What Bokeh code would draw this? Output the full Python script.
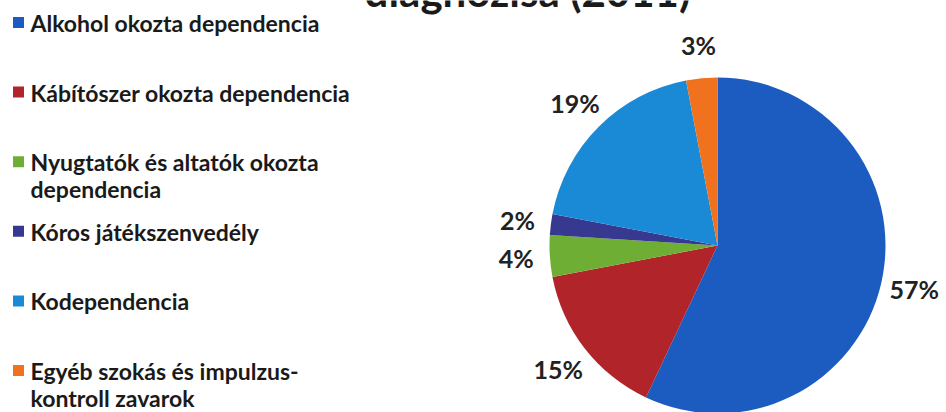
import numpy as np
from bokeh.plotting import figure
from bokeh.models import Range1d, ColumnDataSource
from bokeh.core.properties import value
from bokeh.embed import file_html
from bokeh.resources import INLINE

title_text = "diagnózisa (2011)"
categories = [
    "Alkohol okozta dependencia",
    "Kábítószer okozta dependencia",
    "Nyugtatók és altatók okozta\ndependencia",
    "Kóros játékszenvedély",
    "Kodependencia",
    "Egyéb szokás és impulzus-\nkontroll zavarok",
]
values = [57, 15, 4, 2, 19, 3]
colors = ["#1c5cc0", "#b0242a", "#6fae35", "#37388f", "#1b8ad6", "#f0721f"]

FONT = "Lato"
W, H = 946, 412

p = figure(width=W, height=H, x_range=Range1d(0, W), y_range=Range1d(0, H),
           output_backend="svg", toolbar_location=None, min_border=0)
p.axis.visible = False
p.grid.visible = False
p.outline_line_color = None
p.background_fill_color = "white"
p.border_fill_color = "white"

# pie
frac = np.array(values, dtype=float) / sum(values)
cum = np.concatenate([[0.0], np.cumsum(frac)])
start = np.pi / 2 - 2 * np.pi * cum[:-1]
end = np.pi / 2 - 2 * np.pi * cum[1:]
cx, cy, r = 717, H - 245, 168
pie_src = ColumnDataSource(dict(start=start, end=end, color=colors,
                                label=[f"{v}%" for v in values]))
p.wedge(x=cx, y=cy, radius=r, start_angle="start", end_angle="end",
        direction="clock", fill_color="color", line_color=None, source=pie_src)

mid = (start + end) / 2
lr = r * 1.2
pie_src.data["lx"] = cx + lr * np.cos(mid)
pie_src.data["ly"] = cy + lr * np.sin(mid)
p.text(x="lx", y="ly", text="label", source=pie_src, text_align="center",
       text_baseline="middle", text_font=value(FONT), text_font_style="bold",
       text_font_size="25px", text_color="#222222")

# legend
fs = 23
n = len(categories)
cap_center = 22 + np.arange(n) * 69.6
leg_src = ColumnDataSource(dict(y=H - cap_center, ty=H - (cap_center - 13.5),
                                cat=categories, color=colors))
p.rect(x=18, y="y", width=11, height=11, fill_color="color", line_color=None, source=leg_src)
p.text(x=30, y="ty", text="cat", source=leg_src, text_align="left",
       text_baseline="top", text_font=value(FONT), text_font_style="bold",
       text_font_size=f"{fs}px", text_color="#1a1a1a", text_line_height=0.97)

# title (cut off at the top, as in the reference)
p.text(x=[527], y=[H + 35], text=[title_text], text_align="center",
       text_baseline="top", text_font=value(FONT), text_font_style="bold",
       text_font_size="42px", text_color="#1a1a1a")

open("out.html", "w").write(file_html(p, INLINE))
